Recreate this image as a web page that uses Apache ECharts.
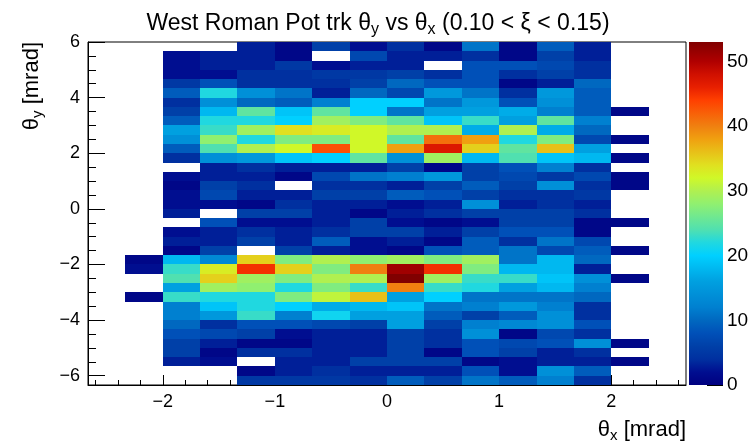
<!DOCTYPE html>
<html><head><meta charset="utf-8">
<script src="https://cdn.jsdelivr.net/npm/echarts@6/dist/echarts.min.js"></script>
<style>html,body{margin:0;padding:0;background:#fff}#c{width:756px;height:445px}</style>
</head><body><div id="c"></div>
<script>
// ---- histogram binning (mrad) ----
const thetaXFirstBinLow = -7 / 3;   // lower edge of first stored column
const thetaXBinWidth = 1 / 3;
const thetaYFirstBinHigh = 6;       // upper edge of first stored row
const thetaYBinWidth = 1 / 3;
const thetaXRange = [-8 / 3, 8 / 3];
const thetaYRange = [-19 / 3, 6];

// ---- counts: rows from θy = 6 downward, columns θx from -2.33 to 2.33 ----
const counts = [
  [0, 0,0,3,1,6,2, 4,1,11,1,9,3, 0],
  [0, 2,3,3,1,0,7, 3,3,4,1,6,3, 0],
  [0, 2,3,3,5,2,3, 3,0,8,8,7,4, 0],
  [0, 2,2,4,4,5,5, 6,4,8,4,6,4, 0],
  [0, 5,8,4,4,4,6, 10,8,8,1,3,10, 0],
  [0, 9,22,14,11,3,10, 7,15,11,4,15,9, 0],
  [0, 4,14,10,9,12,20, 20,11,15,8,14,9, 0],
  [0, 6,18,25,19,25,20, 11,16,16,17,12,9, 1],
  [0, 9,22,22,20,29,27, 25,19,23,16,25,12, 0],
  [0, 16,23,29,34,33,32, 30,30,17,30,17,10, 0],
  [0, 14,28,22,27,27,32, 25,41,38,22,27,7, 1],
  [0, 9,24,30,32,43,32, 38,47,35,25,36,16, 0],
  [0, 4,14,15,19,20,25, 14,29,18,24,19,18, 1],
  [0, 0,3,4,3,3,3, 6,1,6,8,12,4, 0],
  [0, 2,3,3,1,7,11, 12,15,6,7,5,7, 1],
  [0, 1,6,4,0,4,4, 3,6,9,6,14,4, 1],
  [0, 2,7,3,3,6,6, 9,8,6,4,4,5, 0],
  [0, 2,2,1,4,3,3, 2,3,14,3,4,3, 0],
  [0, 3,0,6,6,3,1, 3,4,6,6,6,4, 0],
  [0, 0,8,2,2,3,6, 2,1,2,6,6,1, 1],
  [0, 2,3,4,3,4,6, 6,3,6,8,8,1, 0],
  [0, 3,3,6,3,9,2, 3,1,9,4,11,7, 0],
  [0, 1,6,0,6,3,2, 1,8,9,11,7,9, 1],
  [1, 18,13,35,27,30,28, 29,27,29,11,18,10, 0],
  [2, 23,33,45,35,27,40, 51,45,27,18,18,3, 0],
  [0, 24,35,29,27,30,30, 53,29,23,23,19,14, 1],
  [0, 16,29,28,22,27,23, 40,23,22,16,18,12, 0],
  [1, 23,22,22,27,31,36, 16,20,11,11,11,10, 0],
  [0, 12,19,22,20,17,18, 19,11,12,15,12,4, 0],
  [0, 12,15,23,12,21,16, 16,9,6,9,14,4, 0],
  [0, 10,4,8,8,7,6, 16,6,12,13,14,8, 0],
  [0, 8,7,6,2,3,3, 6,4,14,1,7,4, 0],
  [0, 6,3,1,1,3,3, 6,4,8,7,8,14, 1],
  [0, 6,1,4,4,3,3, 6,1,8,6,3,4, 0],
  [0, 3,2,0,3,3,6, 6,6,1,2,3,3, 1],
  [0, 0,0,1,3,4,3, 3,3,8,2,14,9, 0],
  [0, 0,0,5,5,5,4, 9,6,11,9,12,4, 0]
];

// ---- tick labels ----
const xMajorTicks = [-2, -1, 0, 1, 2];
const yMajorTicks = [-6, -4, -2, 0, 2, 4, 6];
const zMajorTicks = [0, 10, 20, 30, 40, 50];
const zMax = 53;

// ---- colour palette stops (value, colour) ----
const paletteStops = [
  [0,'#000080'],[2,'#000e90'],[4,'#0030a0'],[6,'#0040a8'],[8,'#0050b8'],[10,'#0068c0'],
  [12,'#0080d0'],[14,'#0090d8'],[16,'#00a0e0'],[18,'#00b8f0'],[20,'#00d0ff'],[22,'#20d8e0'],
  [24,'#50e0b0'],[26,'#70e890'],[28,'#90f070'],[30,'#b0f050'],[32,'#d0f828'],[34,'#e0e020'],
  [36,'#e8c018'],[38,'#f0a010'],[40,'#f08010'],[42,'#f86008'],[44,'#ff4000'],[46,'#e82000'],
  [48,'#d01000'],[50,'#b00000'],[52,'#900000'],[53,'#800000']
];

function hex2rgb(h){return [parseInt(h.substr(1,2),16),parseInt(h.substr(3,2),16),parseInt(h.substr(5,2),16)];}
function colorAt(v){
  for (let i=0;i<paletteStops.length-1;i++){
    const a=paletteStops[i], b=paletteStops[i+1];
    if (v>=a[0] && v<=b[0]){
      const t=(v-a[0])/(b[0]-a[0]); const ca=hex2rgb(a[1]), cb=hex2rgb(b[1]);
      return 'rgb('+ca.map((c,k)=>Math.round(c+(cb[k]-c)*t)).join(',')+')';
    }
  }
  return paletteStops[paletteStops.length-1][1];
}
const paletteColors=[]; for (let v=0; v<=zMax; v++) paletteColors.push(colorAt(v));

// ---- build cell data from bins ----
const cells = [];
counts.forEach((row, r) => {
  row.forEach((n, c) => {
    if (n > 0) cells.push([thetaXFirstBinLow + c*thetaXBinWidth, thetaYFirstBinHigh - (r+1)*thetaYBinWidth, n]);
  });
});

const xMinorTicks=[]; for (let k=-13;k<=13;k++) if (k%5!==0) xMinorTicks.push(k/5);
const yMinorTicks=[]; for (let k=-12;k<=12;k++) if (k%4!==0) yMinorTicks.push(k/2);

const FONT = 'Liberation Sans, Arial, Helvetica, sans-serif';
const fmt = v => (v < 0 ? '\u2212' + (-v) : String(v));
const black = '#000';

const chart = echarts.init(document.getElementById('c'), null, {renderer:'canvas'});
chart.setOption({
  animation: false,
  backgroundColor: '#fff',
  textStyle: {fontFamily: FONT},
  title: {
    text: '{n|West Roman Pot trk θ}{s|y}{n| vs θ}{s|x}{n| (0.10 < ξ < 0.15)}',
    left: 'center', top: 5,
    textStyle: {
      fontFamily: FONT, fontWeight: 'normal', fontSize: 23, color: black,
      rich: {
        n: {fontFamily: FONT, fontSize: 23, lineHeight: 28, color: black},
        s: {fontFamily: FONT, fontSize: 16, lineHeight: 19, verticalAlign: 'bottom', color: black}
      }
    }
  },
  grid: [
    {left: 88, right: 70, top: 42, bottom: 60, show: true, borderColor: black, borderWidth: 1, backgroundColor: '#fff', outerBoundsMode: 'none', containLabel: false},
    {left: 689, width: 34, top: 42, bottom: 60, outerBoundsMode: 'none', containLabel: false}
  ],
  xAxis: [
    {type: 'value', gridIndex: 0, min: thetaXRange[0], max: thetaXRange[1], position: 'bottom',
     axisLine: {show: true, onZero: false, lineStyle: {color: black, width: 1}},
     axisTick: {show: true, inside: true, length: 10, customValues: xMajorTicks, lineStyle: {color: black}},
     axisLabel: {show: true, customValues: xMajorTicks, formatter: fmt, fontSize: 18, color: black, margin: 8, fontFamily: FONT},
     splitLine: {show: false}},
    {type: 'value', gridIndex: 0, min: thetaXRange[0], max: thetaXRange[1], position: 'bottom',
     axisLine: {show: false, onZero: false},
     axisTick: {show: true, inside: true, length: 5, customValues: xMinorTicks, lineStyle: {color: black}},
     axisLabel: {show: false}, splitLine: {show: false}},
    {type: 'category', gridIndex: 1, data: ['z'], show: false}
  ],
  yAxis: [
    {type: 'value', gridIndex: 0, min: thetaYRange[0], max: thetaYRange[1], position: 'left',
     axisLine: {show: true, onZero: false, lineStyle: {color: black, width: 1}},
     axisTick: {show: true, inside: true, length: 17, customValues: yMajorTicks, lineStyle: {color: black}},
     axisLabel: {show: true, customValues: yMajorTicks, formatter: fmt, fontSize: 18, color: black, margin: 8, fontFamily: FONT},
     splitLine: {show: false}},
    {type: 'value', gridIndex: 0, min: thetaYRange[0], max: thetaYRange[1], position: 'left',
     axisLine: {show: false, onZero: false},
     axisTick: {show: true, inside: true, length: 8, customValues: yMinorTicks, lineStyle: {color: black}},
     axisLabel: {show: false}, splitLine: {show: false}},
    {type: 'value', gridIndex: 1, min: 0, max: zMax, position: 'right',
     axisLine: {show: false},
     axisTick: {show: true, inside: true, length: 16, customValues: zMajorTicks, lineStyle: {color: black}},
     axisLabel: {show: true, customValues: zMajorTicks, fontSize: 19, color: black, margin: 4, fontFamily: FONT},
     splitLine: {show: false}}
  ],
  visualMap: {
    type: 'continuous', show: false, min: 0, max: zMax, dimension: 2, seriesIndex: 0,
    inRange: {color: paletteColors}
  },
  series: [
    {
      type: 'custom', xAxisIndex: 0, yAxisIndex: 0, clip: true, silent: true,
      encode: {x: 0, y: 1},
      data: cells,
      z: 1,
      renderItem: function (params, api) {
        const x0 = api.value(0), y0 = api.value(1);
        const p0 = api.coord([x0, y0 + thetaYBinWidth]);
        const p1 = api.coord([x0 + thetaXBinWidth, y0]);
        const x = Math.round(p0[0]), y = Math.round(p0[1]);
        return {type: 'rect', shape: {x: x, y: y, width: Math.round(p1[0]) - x, height: Math.round(p1[1]) - y},
                style: {fill: api.visual('color')}};
      }
    },
    {
      type: 'bar', xAxisIndex: 2, yAxisIndex: 2, data: [zMax], barWidth: '100%', silent: true,
      itemStyle: {color: new echarts.graphic.LinearGradient(0, 1, 0, 0,
        paletteStops.map(s => ({offset: s[0] / zMax, color: s[1]})))}
    }
  ],
  graphic: [
    {type: 'text', x: 686, y: 430, z: 10,
     style: {text: '{n|θ}{s|x}{n| [mrad]}', align: 'right', verticalAlign: 'middle', textAlign: 'right', textVerticalAlign: 'middle',
             fill: black, font: '22px ' + FONT,
             rich: {n: {fontFamily: FONT, fontSize: 22, lineHeight: 26, fill: black},
                    s: {fontFamily: FONT, fontSize: 15, lineHeight: 17, verticalAlign: 'bottom', fill: black}}}},
    {type: 'text', x: 32, y: 42, rotation: Math.PI / 2, z: 10,
     style: {text: '{n|θ}{s|y}{n| [mrad]}', align: 'right', verticalAlign: 'middle', textAlign: 'right', textVerticalAlign: 'middle',
             fill: black, font: '22px ' + FONT,
             rich: {n: {fontFamily: FONT, fontSize: 22, lineHeight: 26, fill: black},
                    s: {fontFamily: FONT, fontSize: 15, lineHeight: 17, verticalAlign: 'bottom', fill: black}}}}
  ]
});
</script></body></html>
